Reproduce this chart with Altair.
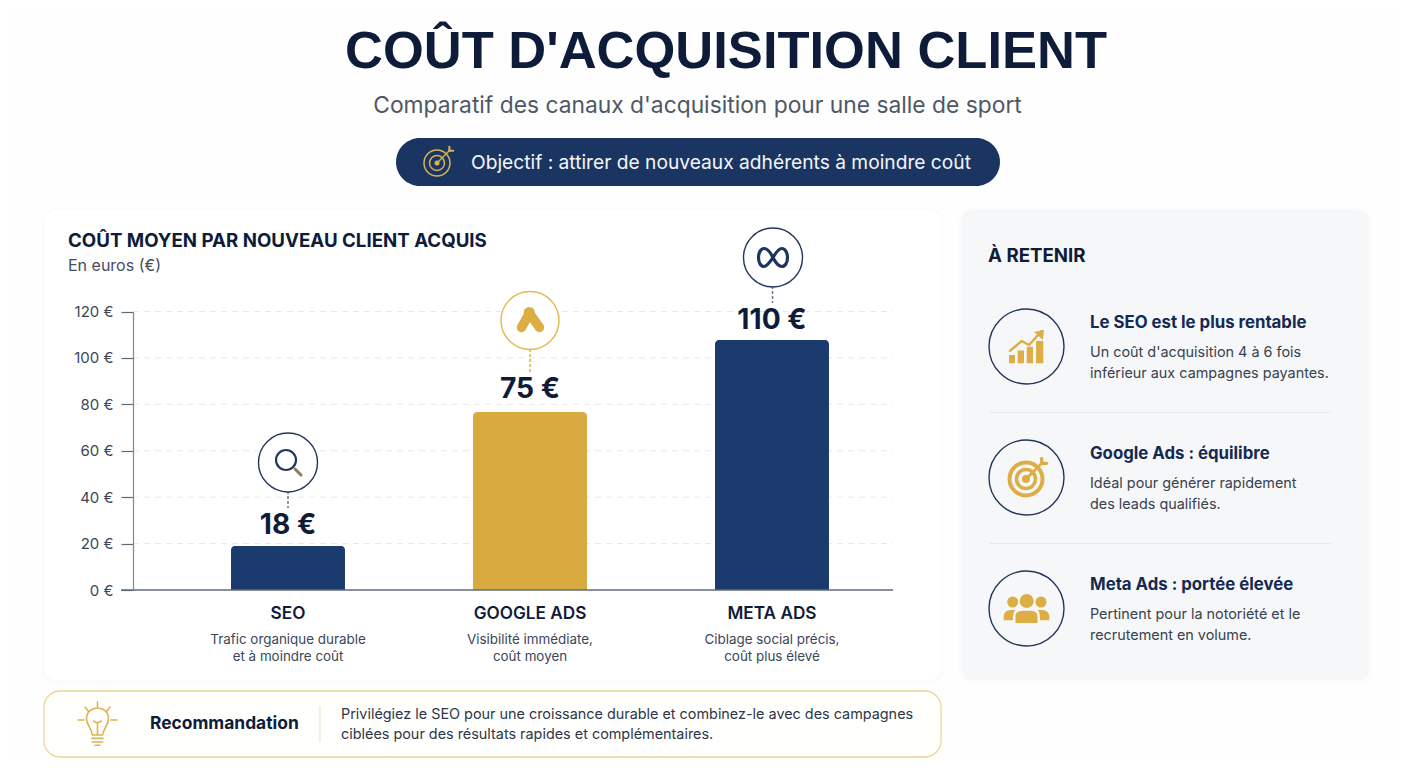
import altair as alt
import pandas as pd

# values as printed above the bars
channels = ["SEO", "GOOGLE ADS", "META ADS"]
printed_costs = [18, 75, 110]
# bar heights and label centres as drawn
drawn_heights = [19, 76.7, 107.7]
label_levels = [28.4, 87, 116.8]
bar_colors = ["#1b3a6d", "#d8aa40", "#1b3a6d"]
descriptions_1 = ["Trafic organique durable", "Visibilité immédiate,", "Ciblage social précis,"]
descriptions_2 = ["et à moindre coût", "coût moyen", "coût plus élevé"]
y_ticks = [0, 20, 40, 60, 80, 100, 120]

takeaway_titles = ["Le SEO est le plus rentable", "Google Ads : équilibre", "Meta Ads : portée élevée"]
takeaway_lines_1 = ["Un coût d'acquisition 4 à 6 fois", "Idéal pour générer rapidement", "Pertinent pour la notoriété et le"]
takeaway_lines_2 = ["inférieur aux campagnes payantes.", "des leads qualifiés.", "recrutement en volume."]

NAVY = "#0e1c3a"
GOLD = "#dcae45"
RING = "#22365c"
PANEL = "#f6f7f9"
OFF = 8  # page margin

df = pd.DataFrame({"channel": channels, "cost": printed_costs, "height": drawn_heights, "level": label_levels,
                   "label": [f"{c} €" for c in printed_costs],
                   "line1": descriptions_1, "line2": descriptions_2})

x_scale = alt.Scale(domain=channels, range=[159, 885], paddingInner=0.529, paddingOuter=0.2645)
y_scale = alt.Scale(domain=[0, 120], range=[582, 303.5], nice=False)
# every layer on these scales carries the same axis, or Vega-Lite drops it
x_axis = alt.Axis(title=None, domain=False, ticks=False, labelAngle=0, labelFont="Inter", labelFontSize=17.2,
                  labelFontWeight=600, labelColor=NAVY, labelPadding=14, offset=-170, zindex=1)
y_axis = alt.Axis(title=None, values=y_ticks, grid=False, labelExpr="datum.value + ' €'", labelFont="Inter",
                  labelFontSize=15, labelColor="#3c4656", labelPadding=8, tickSize=12, tickColor="#5f6b7a",
                  domainColor="#7f8894", tickWidth=1.2, domainWidth=1.2, offset=-125, zindex=1)


def txt(s, x, y, size, color, weight=400, font="Inter", align="left"):
    return alt.Chart().mark_text(align=align, baseline="middle", font=font, fontSize=size,
                                 fontWeight=weight, color=color).encode(
        x=alt.value(x - OFF), y=alt.value(y - OFF), text=alt.value(s))


def box(x0, y0, x1, y1, fill, stroke=None, radius=0, width=1, opacity=1):
    opts = dict(fill=fill, cornerRadius=radius, opacity=opacity)
    if stroke:
        opts.update(stroke=stroke, strokeWidth=width)
    return alt.Chart().mark_rect(**opts).encode(
        x=alt.value(x0 - OFF), x2=alt.value(x1 - OFF), y=alt.value(y0 - OFF), y2=alt.value(y1 - OFF))


def seg(x0, y0, x1, y1, color, width=1, dash=None, cap="butt"):
    opts = dict(color=color, strokeWidth=width, strokeCap=cap)
    if dash:
        opts["strokeDash"] = dash
    return alt.Chart().mark_rule(**opts).encode(
        x=alt.value(x0 - OFF), x2=alt.value(x1 - OFF), y=alt.value(y0 - OFF), y2=alt.value(y1 - OFF))


def ring(cx, cy, d, stroke, width=1.4, fill="#ffffff"):
    return alt.Chart().mark_point(shape="circle", filled=False, fill=fill, fillOpacity=1, opacity=1,
                                  stroke=stroke, strokeWidth=width, size=d * d).encode(
        x=alt.value(cx - OFF), y=alt.value(cy - OFF))


def dot(cx, cy, d, fill):
    return alt.Chart().mark_point(shape="circle", filled=True, fill=fill, opacity=1, strokeWidth=0,
                                  size=d * d).encode(x=alt.value(cx - OFF), y=alt.value(cy - OFF))


def glyph(path, cx, cy, unit, fill=None, stroke=None, width=1.5):
    # unit = pixels for one path unit
    opts = dict(shape=path, size=(2 * unit) ** 2, opacity=1)
    if fill:
        opts.update(filled=True, fill=fill, strokeWidth=0)
    else:
        opts.update(filled=False, stroke=stroke, strokeWidth=width, strokeCap="round", strokeJoin="round")
    return alt.Chart().mark_point(**opts).encode(x=alt.value(cx - OFF), y=alt.value(cy - OFF))


def target(cx, cy, r, color, w1, w2, dot_d, shaft):
    parts = [ring(cx, cy, 2 * r, color, w1, fill="transparent"),
             ring(cx, cy, 1.15 * r, color, w2, fill="transparent"),
             dot(cx, cy, dot_d, color),
             seg(cx, cy, cx + r * 1.0, cy - r * 1.0, color, shaft, cap="round"),
             seg(cx + r * 0.95, cy - r * 0.95, cx + r * 1.25, cy - r * 0.95, color, shaft + 0.6, cap="round"),
             seg(cx + r * 0.95, cy - r * 0.95, cx + r * 0.95, cy - r * 1.25, color, shaft + 0.6, cap="round")]
    return parts


META_PATH = ("M0,0 C-0.2,-0.4 -0.4,-0.62 -0.62,-0.62 C-0.85,-0.62 -1,-0.3 -1,0 C-1,0.35 -0.85,0.62 -0.62,0.62 "
             "C-0.4,0.62 -0.2,0.3 0,0 C0.2,-0.35 0.4,-0.62 0.62,-0.62 C0.85,-0.62 1,-0.3 1,0 "
             "C1,0.35 0.85,0.62 0.62,0.62 C0.4,0.62 0.2,0.4 0,0")
CHART_BARS = ("M-0.94,0.63 L-0.94,0.17 L-0.61,0.17 L-0.61,0.63 Z M-0.46,0.63 L-0.46,-0.09 L-0.11,-0.09 L-0.11,0.63 Z "
              "M0.04,0.63 L0.04,-0.29 L0.39,-0.29 L0.39,0.63 Z M0.56,0.63 L0.56,-0.61 L0.96,-0.61 L0.96,0.63 Z")
CHART_LINE = "M-0.89,-0.07 L-0.24,-0.61 L0.17,-0.39 L0.87,-1.17"
CHART_HEAD = "M1,-1.22 L0.44,-1.11 L0.94,-0.67 Z"
BODY_MID = "M-0.46,0.56 L-0.46,0.30 C-0.46,0.05 -0.25,0.05 0,0.05 C0.25,0.05 0.46,0.05 0.46,0.30 L0.46,0.56 Z"
BODY_SIDES = ("M-0.95,0.45 L-0.95,0.30 C-0.95,0.1 -0.8,0.02 -0.6,0.02 L-0.46,0.02 C-0.55,0.1 -0.56,0.2 -0.56,0.45 Z "
              "M0.95,0.45 L0.95,0.30 C0.95,0.1 0.8,0.02 0.6,0.02 L0.46,0.02 C0.55,0.1 0.56,0.2 0.56,0.45 Z")
BULB = ("M-0.26,0.55 C-0.3,0.2 -0.55,0.05 -0.55,-0.28 C-0.55,-0.6 -0.3,-0.8 0,-0.8 C0.3,-0.8 0.55,-0.6 0.55,-0.28 "
        "C0.55,0.05 0.3,0.2 0.26,0.55 Z M0,0.5 L0,-0.05 M-0.2,-0.15 L0,-0.05 L0.2,-0.15 "
        "M-0.28,0.72 L0.28,0.72 M-0.26,0.9 L0.26,0.9 M-0.12,1.06 L0.12,1.06 "
        "M0,-1.1 L0,-0.88 M-0.62,-0.85 L-0.47,-0.65 M0.62,-0.85 L0.47,-0.65 M-0.97,-0.2 L-0.67,-0.2 M0.97,-0.2 L0.67,-0.2")

layers = []

# header
layers += [
    txt("COÛT D'ACQUISITION CLIENT", 726, 52, 52.5, NAVY, 700, "Liberation Sans", "center"),
    txt("Comparatif des canaux d'acquisition pour une salle de sport", 697.5, 106, 22.8, "#4d5867", 400, "Inter", "center"),
    box(396, 138, 1000, 186, "#1b3563", radius=24),
    txt("Objectif : attirer de nouveaux adhérents à moindre coût", 471, 162.5, 19.2, "#f4f6f9"),
]
layers += target(437, 163, 13, "#d9b352", 1.5, 1.5, 5, 1.4)

# cards with a faint shadow
for (x0, y0, x1, y1, fill) in [(44, 210, 941, 680, "#ffffff"), (961, 210, 1369, 680, PANEL)]:
    layers += [box(x0 - 3, y0 - 2, x1 + 3, y1 + 4, "#8a94a6", radius=14, opacity=0.015),
               box(x0 - 1, y0 - 1, x1 + 1, y1 + 2, "#8a94a6", radius=13, opacity=0.02),
               box(x0, y0, x1, y1, fill, radius=12)]

layers += [txt("COÛT MOYEN PAR NOUVEAU CLIENT ACQUIS", 68, 241, 18.7, NAVY, 700),
           txt("En euros (€)", 68, 266, 16, "#444d5c")]

# gridlines, bars, baseline
grid = alt.Chart(pd.DataFrame({"tick": y_ticks[1:]})).mark_rule(strokeDash=[6, 5], color="#e6e8eb", strokeWidth=1).encode(
    y=alt.Y("tick:Q", scale=y_scale, axis=y_axis), x=alt.value(125), x2=alt.value(885))
bars = alt.Chart(df).mark_bar(cornerRadiusTopLeft=4, cornerRadiusTopRight=4).encode(
    x=alt.X("channel:N", scale=x_scale, sort=channels, axis=x_axis),
    y=alt.Y("height:Q", scale=y_scale, axis=y_axis),
    color=alt.Color("channel:N", scale=alt.Scale(domain=channels, range=bar_colors), legend=None))
baseline = seg(121, 590, 893, 590, "#5f6b7a", 1.6)
value_labels = alt.Chart(df).mark_text(font="Inter", fontSize=28.2, fontWeight=700, color=NAVY, baseline="middle", dy=2).encode(
    x=alt.X("channel:N", scale=x_scale, sort=channels, axis=x_axis),
    y=alt.Y("level:Q", scale=y_scale, axis=y_axis), text="label:N")
sub1 = alt.Chart(df).mark_text(font="Inter", fontSize=13.4, color="#3b4658", baseline="middle").encode(
    x=alt.X("channel:N", scale=x_scale, sort=channels, axis=x_axis), y=alt.value(640 - OFF), text="line1:N")
sub2 = alt.Chart(df).mark_text(font="Inter", fontSize=13.4, color="#3b4658", baseline="middle").encode(
    x=alt.X("channel:N", scale=x_scale, sort=channels, axis=x_axis), y=alt.value(657 - OFF), text="line2:N")
layers += [grid, bars, baseline]

# badges above the bars
layers += [
    seg(288, 491, 288, 508, "#6b7686", 1.5, [3, 2]),
    seg(530, 349, 530, 373, GOLD, 1.5, [3, 2]),
    seg(772.5, 286, 772.5, 303, "#6b7686", 1.5, [3, 2]),
    ring(288, 462.5, 59, RING),
    ring(530, 320.5, 58, "#e3b84f"),
    ring(773, 257.5, 59, RING),
    ring(286, 460, 20, RING, 2.2, fill="transparent"),
    seg(295, 469, 301, 475, "#8c7f5f", 3, cap="round"),
    seg(521.5, 327.5, 530, 312, GOLD, 9.5, cap="round"),
    seg(528.5, 312, 539.5, 327.5, GOLD, 9.5, cap="round"),
    glyph(META_PATH, 773, 257.5, 14.5, stroke="#1d3560", width=3.2),
    value_labels, sub1, sub2,
]

# right panel
layers.append(txt("À RETENIR", 988, 255.5, 18.7, NAVY, 700))
centers = [346.5, 477.5, 608.5]
for i, cy in enumerate(centers):
    layers += [ring(1026.5, cy, 75, RING, 1.4, fill=PANEL),
               txt(takeaway_titles[i], 1090, cy - 24, 16.8, "#152a52", 700),
               txt(takeaway_lines_1[i], 1090, cy + 6.5, 14.4, "#39424f"),
               txt(takeaway_lines_2[i], 1090, cy + 27.5, 14.4, "#39424f")]
layers += [seg(990, 412.5, 1331, 412.5, "#e5e7ea"), seg(990, 543.5, 1331, 543.5, "#e5e7ea")]
layers += [glyph(CHART_BARS, 1026, 352, 18, fill=GOLD),
           glyph(CHART_LINE, 1026, 352, 18, stroke=GOLD, width=2.4),
           glyph(CHART_HEAD, 1026, 352, 18, fill=GOLD)]
layers += target(1026, 479, 16.5, GOLD, 4, 3.5, 8, 2.6)
layers += [glyph(BODY_MID, 1026.5, 609.5, 24, fill=GOLD),
           glyph(BODY_SIDES, 1026.5, 609.5, 24, fill=GOLD),
           dot(1026.7, 601, 14, GOLD), dot(1012.7, 602, 11, GOLD), dot(1041, 602, 11, GOLD)]

# recommendation
layers += [box(44, 691, 941, 757, "#fffffd", stroke="#ecd596", radius=16, width=1.3),
           glyph(BULB, 97.5, 724, 20, stroke="#dcb455", width=1.6),
           txt("Recommandation", 150, 724, 17.4, NAVY, 700),
           seg(320, 706, 320, 742, "#e8e2d0", 1.2),
           txt("Privilégiez le SEO pour une croissance durable et combinez-le avec des campagnes", 341, 715, 14.4, "#2d3748"),
           txt("ciblées pour des résultats rapides et complémentaires.", 341, 735, 14.4, "#2d3748")]

chart = alt.layer(*layers).properties(
    width=1392, height=752, padding=0, background="#fefefe",
    autosize=alt.AutoSizeParams(type="none"),
).configure_view(stroke=None)

chart.save("out.html", embed_options={"renderer": "svg", "actions": False})
